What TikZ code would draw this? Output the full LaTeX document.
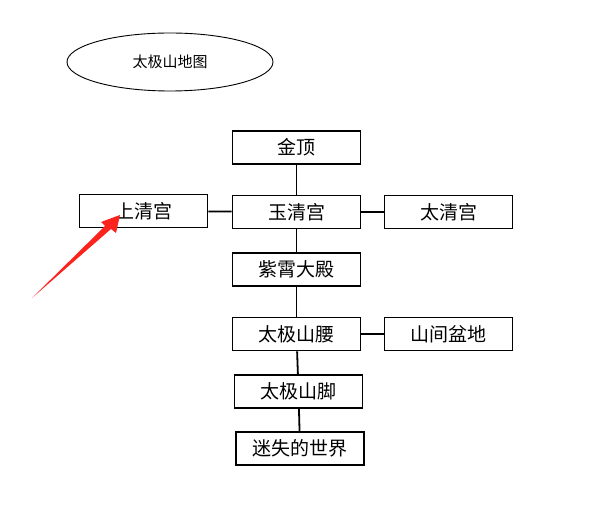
\documentclass[tikz,border=0pt]{standalone}
\usepackage{fontspec}
\setmainfont{Noto Sans CJK SC}
\usetikzlibrary{shapes.geometric}

\definecolor{arrowred}{RGB}{250,35,30}

\begin{document}
\begin{tikzpicture}[x=1pt,y=-1pt,
  thick,place node/.style={rectangle,draw,line width=1.8pt,minimum width=128pt,minimum height=33pt,inner sep=0pt,font=\fontsize{19}{19}\selectfont},
  title node/.style={ellipse,draw,line width=0.9pt,minimum width=206pt,minimum height=58pt,inner sep=0pt,font=\fontsize{15}{15}\selectfont}]

  \useasboundingbox (0,0) rectangle (592,518);

  \node[title node] (title) at (170,62) {太极山地图};

  \node[place node] (jinding) at (296.5,147.5) {金顶};
  \node[place node] (yuqing) at (296.5,212) {玉清宫};
  \node[place node] (shangqing) at (143.5,211) {上清宫};
  \node[place node] (taiqing) at (448.5,212) {太清宫};
  \node[place node] (zixiao) at (296.5,269.5) {紫霄大殿};
  \node[place node] (yaobu) at (296.5,334) {太极山腰};
  \node[place node] (shanjian) at (448.5,334) {山间盆地};
  \node[place node] (shanjiao) at (298.5,391.5) {太极山脚};
  \node[place node] (mishi) at (300,448.5) {迷失的世界};

  \path[line width=1.8pt,every edge/.style={draw,line width=1.8pt}]
   (jinding) edge (yuqing)
   (yuqing) edge (shangqing)
   (yuqing) edge (taiqing)
   (yuqing) edge (zixiao)
   (zixiao) edge (yaobu)
   (yaobu) edge (shanjian)
   (yaobu) edge (shanjiao)
   (shanjiao) edge (mishi);

  % red pointer
  \coordinate (tail) at (32,298);
  \coordinate (tip) at (120,215);
  \fill[arrowred] (tail) -- (105,226) -- (101,222) -- (tip) -- (116,233) -- (111,229) -- cycle;
\end{tikzpicture}
\end{document}
